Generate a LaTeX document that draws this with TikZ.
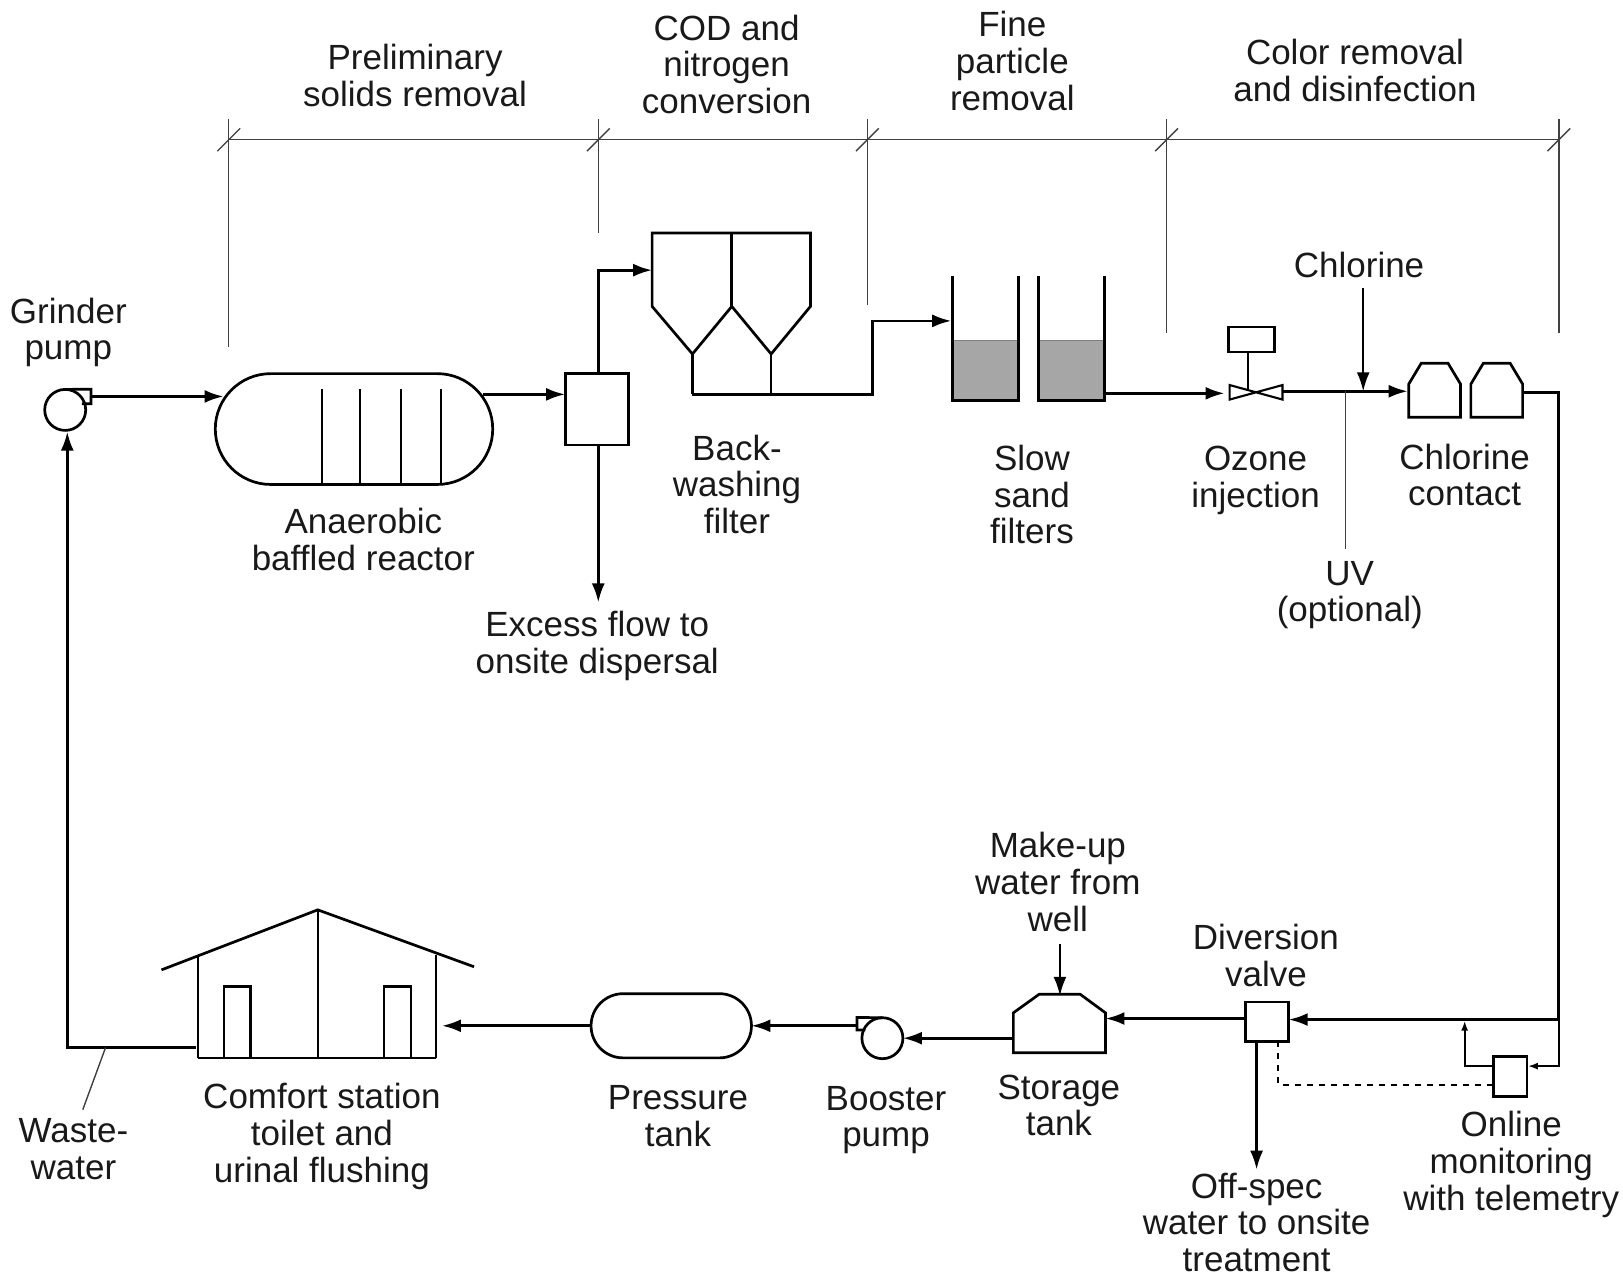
\documentclass[tikz,border=0pt]{standalone}
\usepackage{fontspec}
\setmainfont{Liberation Sans}
\usetikzlibrary{arrows.meta}
\usetikzlibrary{shapes.misc}

\begin{document}
\begin{tikzpicture}[
    x=0.5175pt,
    y=-0.5175pt,
    pipe/.style={line width=1.35pt, black},
    inner pipe/.style={line width=1.05pt, black},
    flow/.style={pipe, -{Latex[length=9.5pt,width=6.5pt]}},
    small flow/.style={inner pipe, -{Latex[length=5pt,width=3.5pt]}},
    thin line/.style={line width=0.7pt, black!75},
    unit/.style={draw, pipe, rectangle, inner sep=0pt, outer sep=0pt},
    vessel/.style={unit, rounded rectangle, rounded rectangle arc length=180},
    pump/.style={unit, circle, minimum size=20.5pt},
    lbl/.style={align=center, inner sep=0pt, font=\fontsize{17.5}{18.3}\selectfont, text=black!90}
    ]
    \useasboundingbox (0,0) rectangle (1568,1233);

    % process stages along the top
    \foreach \n/\x/\y in {1/221/335,2/578/225,3/838/295,4/1127/322,5/1506/322}{
      \coordinate (\n_t) at (\x,135);
      \coordinate (\n_b) at (\x,\y);
      \draw[thin line] (\x,115) -- (\n_b);
      \draw[thin line] (\x-11,146) -- (\x+11,124);
    }
    \draw[thin line] (1_t) -- (5_t);
    \node[lbl] (st_1) at (401,73) {Preliminary\\solids removal};
    \node[lbl] (st_2) at (702,62) {COD and\\nitrogen\\conversion};
    \node[lbl] (st_3) at (978,59) {Fine\\particle\\removal};
    \node[lbl] (st_4) at (1309,68) {Color removal\\and disinfection};

    % upper line
    \node[pump] (gp) at (63,396) {};
    \draw[pipe] (gp.north) -- (88,376) -- (88,390) -- (79,390);
    \node[vessel, minimum width=138.7pt, minimum height=55.4pt] (abr) at (342,414.5) {};
    \foreach \x in {311,348,387,426}{
      \draw[inner pipe] (\x,376) -- (\x,468);
    }
    \node[unit, minimum width=31.5pt, minimum height=35.7pt] (sb) at (576.5,395.5) {};
    \node[coordinate] (gp_o) at (88,383) {};
    \node[coordinate] (abr_i) at (216,383) {};
    \node[coordinate] (abr_o) at (467,381) {};
    \node[coordinate] (sb_i) at (546,381) {};
    \node[coordinate] (sb_t) at (578,361) {};
    \node[coordinate] (sb_b) at (578,430) {};
    \node[coordinate] (ex) at (578,582) {};
    \node[coordinate] (bw_i) at (630,261) {};
    \draw[flow] (gp_o) -- (abr_i);
    \draw[flow] (abr_o) -- (sb_i);
    \draw[flow] (sb_t) |- (bw_i);
    \draw[flow] (sb_b) -- (ex);

    % backwashing filter
    \draw[pipe] (630,225) -- (783,225) -- (783,296) -- (745,342) -- (707,296)
      -- (669,342) -- (630,296) -- cycle;
    \draw[pipe] (707,225) -- (707,296);
    \node[coordinate] (bw_1) at (669,342) {};
    \node[coordinate] (bw_2) at (745,342) {};
    \node[coordinate] (bw_3) at (669,381) {};
    \node[coordinate] (bw_4) at (745,381) {};
    \node[coordinate] (bw_5) at (843,381) {};
    \node[coordinate] (sf_i) at (919,310) {};
    \draw[pipe] (bw_1) -- (bw_3);
    \draw[pipe] (bw_2) -- (bw_4);
    \draw[flow] (bw_3) -- (bw_5) |- (sf_i);

    % slow sand filters
    \foreach \n/\x in {l/920,r/1003}{
      \node[rectangle, draw=black!50, fill=black!35, inner sep=0pt, outer sep=0pt,
        minimum width=33.1pt, minimum height=30pt, anchor=south west] (sf_\n) at (\x,387) {};
      \draw[pipe] (\x,267) -- (\x,387) -- (\x+64,387) -- (\x+64,267);
    }

    % ozone, chlorine, UV
    \node[coordinate] (sf_o) at (1067,380) {};
    \node[coordinate] (oz_i) at (1183,380) {};
    \draw[flow] (sf_o) -- (oz_i);
    \draw[inner pipe] (1188,372) -- (1239,386) -- (1239,372) -- (1188,386) -- cycle;
    \node[unit, minimum width=22.8pt, minimum height=12.4pt] (oz) at (1209,328) {};
    \node[coordinate] (oz_v) at (1206,378) {};
    \draw[inner pipe] (oz_v |- oz.south) -- (oz_v);
    \node[coordinate] (oz_o) at (1239,378) {};
    \node[coordinate] (cc_i) at (1360,378) {};
    \draw[flow] (oz_o) -- (cc_i);
    \node[coordinate] (cl_t) at (1317,278) {};
    \node[coordinate] (cl_b) at (1317,378) {};
    \draw[flow, line width=1.05pt] (cl_t) -- (cl_b);
    \node[coordinate] (uv_t) at (1300,378) {};
    \node[coordinate] (uv_b) at (1300,530) {};
    \draw[thin line] (uv_t) -- (uv_b);
    \foreach \x in {1361,1421}{
      \draw[pipe] (\x,403) -- (\x,371) -- (\x+12,351) -- (\x+38,351) -- (\x+50,371)
        -- (\x+50,403) -- cycle;
    }

    % return line
    \node[coordinate] (cc_o) at (1472,379) {};
    \node[coordinate] (rt_1) at (1506,379) {};
    \node[coordinate] (rt_2) at (1506,985) {};
    \node[coordinate] (rt_3) at (1506,1030) {};
    \node[unit, minimum width=16.9pt, minimum height=20.3pt] (om) at (1459,1040) {};
    \node[unit, minimum width=21.2pt, minimum height=19.7pt] (dv) at (1224,987) {};
    \node[coordinate] (om_i) at (1476,1030) {};
    \node[coordinate] (om_o) at (1443,1030) {};
    \node[coordinate] (om_t) at (1415,986) {};
    \node[coordinate] (dv_i) at (1245,985) {};
    \node[coordinate] (dv_o) at (1204,984) {};
    \node[coordinate] (dv_b) at (1214,1006) {};
    \node[coordinate] (os) at (1214,1130) {};
    \node[coordinate] (dv_d) at (1235,1006) {};
    \node[coordinate] (om_d) at (1443,1048) {};
    \draw[pipe] (cc_o) -- (rt_1) -- (rt_2);
    \draw[flow] (rt_2) -- (dv_i);
    \draw[small flow] (rt_2) -- (rt_3) -- (om_i);
    \draw[small flow] (om_o) -| (om_t);
    \draw[inner pipe, dashed] (dv_d) |- (om_d);
    \draw[flow] (dv_b) -- (os);

    % lower line
    \draw[pipe] (979,1017) -- (979,978.5) -- (1004,960.5) -- (1043.5,960.5) -- (1068,978.5)
      -- (1068,1017) -- cycle;
    \node[coordinate] (st_i) at (1068,984) {};
    \node[coordinate] (st_t) at (1024,962) {};
    \node[coordinate] (mu) at (1024,912) {};
    \node[coordinate] (st_o) at (979,1003) {};
    \node[pump] (bp) at (852.5,1003) {};
    \draw[pipe] (bp.north) -- (828,983) -- (828,995) -- (836,995);
    \node[coordinate] (bp_o) at (828,991) {};
    \node[vessel, minimum width=80.2pt, minimum height=32.1pt] (pt) at (648.5,991) {};
    \node[coordinate] (cs_i) at (427,991) {};
    \draw[flow] (dv_o) -- (st_i);
    \draw[flow, line width=1.05pt] (mu) -- (st_t);
    \draw[flow] (st_o) -- (bp.east);
    \draw[flow] (bp_o) -- (pt.east);
    \draw[flow] (pt.west) -- (cs_i);

    % comfort station
    \draw[pipe] (156,937) -- (307,879) -- (458,934);
    \draw[inner pipe] (191,923) -- (191,1022);
    \draw[inner pipe] (421,923) -- (421,1022);
    \draw[pipe] (191,1022) -- (421,1022);
    \draw[inner pipe] (307,879) -- (307,1022);
    \foreach \x in {216,371}{
      \draw[inner pipe] (\x,1022) -- (\x,953) -- (\x+26,953) -- (\x+26,1022);
    }
    \node[coordinate] (cs_o) at (189,1012) {};
    \node[coordinate] (ww_1) at (65,1012) {};
    \node[coordinate] (ww_2) at (102,1012) {};
    \node[coordinate] (ww_3) at (80,1072) {};
    \node[coordinate] (gp_i) at (65,417) {};
    \draw[flow] (cs_o) -- (ww_1) -- (gp_i);
    \draw[thin line] (ww_2) -- (ww_3);

    % labels
    \node[lbl] (gp_l) at (66,321) {Grinder\\pump};
    \node[lbl] (abr_l) at (351,521) {Anaerobic\\baffled reactor};
    \node[lbl] (ex_l) at (577,624) {Excess flow to\\onsite dispersal};
    \node[lbl] (bw_l) at (712,468) {Back-\\washing\\filter};
    \node[lbl] (sf_l2) at (997,478) {Slow\\sand\\filters};
    \node[lbl] (oz_l) at (1213,464) {Ozone\\injection};
    \node[lbl] (cl_l) at (1313,256) {Chlorine};
    \node[lbl] (cc_l) at (1415,459) {Chlorine\\contact};
    \node[lbl] (uv_l) at (1304,575) {UV\\(optional)};
    \node[lbl] (mu_l) at (1022,852) {Make-up\\water from\\well};
    \node[lbl] (dv_l) at (1223,923) {Diversion\\valve};
    \node[lbl] (st_l) at (1023,1068) {Storage\\tank};
    \node[lbl] (bp_l) at (856,1082) {Booster\\pump};
    \node[lbl] (pt_l) at (655,1078) {Pressure\\tank};
    \node[lbl] (cs_l) at (311,1098) {Comfort station\\toilet and\\urinal flushing};
    \node[lbl] (ww_l) at (71,1110) {Waste-\\water};
    \node[lbl] (om_l) at (1460,1125) {Online\\monitoring\\with telemetry};
    \node[lbl] (os_l) at (1214,1181) {Off-spec\\water to onsite\\treatment};
  \end{tikzpicture}
\end{document}
